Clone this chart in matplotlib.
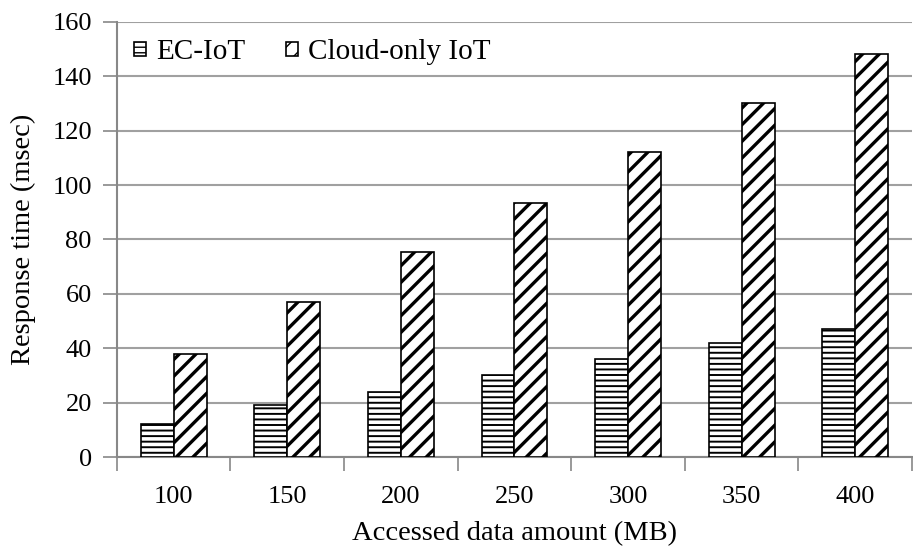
import matplotlib.pyplot as plt
import numpy as np

# data
data_amount = ['100', '150', '200', '250', '300', '350', '400']
ec_iot = [12, 19, 24, 30, 36, 42, 47]
cloud_only = [38, 57, 75.5, 93.5, 112, 130, 148]

plt.rcParams['font.family'] = ['Liberation Serif', 'DejaVu Serif']


def main():
    fig = plt.figure(figsize=(9.13, 5.46), dpi=100)
    ax = fig.add_axes([0.128, 0.163, 0.871, 0.797])

    x = np.arange(len(data_amount))
    w = 0.29
    with plt.rc_context({'hatch.linewidth': 1.4}):
        ax.bar(x - w / 2, ec_iot, w, color='white', edgecolor='black',
               hatch='---', linewidth=1.2, label='EC-IoT', zorder=3)
    with plt.rc_context({'hatch.linewidth': 2.4}):
        ax.bar(x + w / 2, cloud_only, w, color='white', edgecolor='black',
               hatch='//', linewidth=1.2, label='Cloud-only IoT', zorder=3)

    ax.set_xlim(-0.5, len(data_amount) - 0.5)
    ax.set_ylim(0, 160)
    ax.set_yticks(range(0, 161, 20))

    # ticks at category boundaries, labels centred
    ax.set_xticks(np.arange(-0.5, len(data_amount), 1.0))
    ax.set_xticklabels([])
    ax.set_xticks(x, minor=True)
    ax.set_xticklabels(data_amount, minor=True)
    ax.tick_params(axis='x', which='major', length=10, width=1.2,
                   color='#888888', direction='out')
    ax.tick_params(axis='x', which='minor', length=0, pad=21, labelsize=19)
    ax.tick_params(axis='y', length=10, width=1.2, color='#888888',
                   labelsize=19, pad=8)

    ax.yaxis.grid(True, color='#a0a0a0', linewidth=1.5, zorder=0)
    ax.set_axisbelow(True)
    for s in ['top', 'right']:
        ax.spines[s].set_visible(False)
    for s in ['left', 'bottom']:
        ax.spines[s].set_color('#888888')
        ax.spines[s].set_linewidth(1.5)

    ax.set_xlabel('Accessed data amount (MB)', fontsize=20.5, labelpad=9)
    ax.set_ylabel('Response time (msec)', fontsize=20.5)
    ax.yaxis.set_label_coords(-0.102, 0.5)

    ax.legend(loc='upper left', ncol=2, frameon=False, fontsize=21,
              handlelength=0.4, handleheight=0.4, handletextpad=0.35,
              columnspacing=1.4, bbox_to_anchor=(0.0, 1.0),
              borderaxespad=0.2)

    fig.savefig('out.png', dpi=100)


if __name__ == '__main__':
    main()
